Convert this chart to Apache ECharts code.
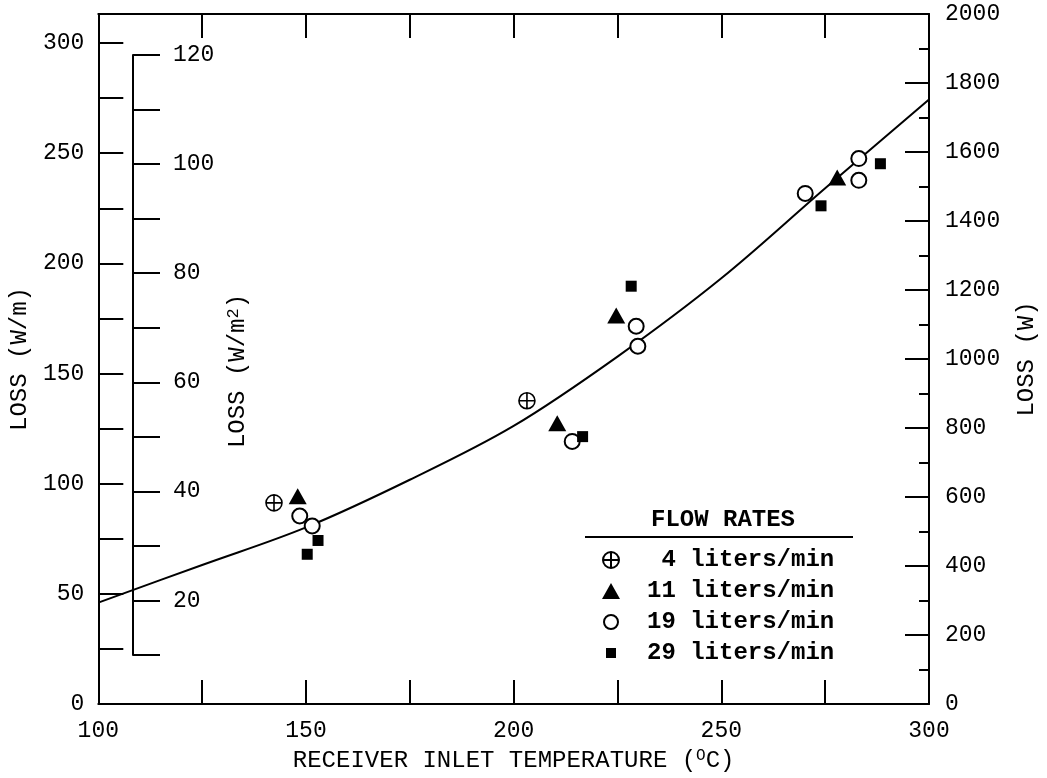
<!DOCTYPE html>
<html><head><meta charset="utf-8">
<script src="https://cdn.jsdelivr.net/npm/echarts@6/dist/echarts.min.js"></script>
<style>html,body{margin:0;padding:0;background:#fff}#c{width:1047px;height:778px}</style>
</head><body><div id="c"></div>
<script>
const FONT = "'Liberation Mono', 'Courier New', monospace";

// ---- data ----
const curveTemp = [100, 125, 150, 175, 200, 225, 250, 275, 300];
const curveLoss = [294, 403, 512, 650, 806, 1007, 1234, 1495, 1752];

const seriesNames = [' 4 liters/min', '11 liters/min', '19 liters/min', '29 liters/min'];
const temp4 = [142.3, 203.2];
const loss4 = [583, 879];
const temp11 = [148.0, 210.5, 224.7, 277.9];
const loss11 = [602, 814, 1126, 1526];
const temp19 = [148.5, 151.5, 214.1, 229.5, 229.9, 270.2, 283.1, 283.1];
const loss19 = [545, 516, 761, 1095, 1037, 1480, 1581, 1518];
const temp29 = [150.3, 152.9, 216.6, 228.3, 274.0, 288.3];
const loss29 = [434, 474, 775, 1211, 1444, 1566];

const xTickLabels = [100, 150, 200, 250, 300];
const lossPerMLabels = [0, 50, 100, 150, 200, 250, 300];
const lossPerM2Labels = [20, 40, 60, 80, 100, 120];
const lossWLabels = [0, 200, 400, 600, 800, 1000, 1200, 1400, 1600, 1800, 2000];

const pairs = (xs, ys) => xs.map((x, i) => [x, ys[i]]);

const plusPath = 'path://M0,8A8,8,0,1,1,16,8A8,8,0,1,1,0,8ZM8,0L8,16M0,8L16,8';
const circleIcon = 'path://M0,0M18,16M2,8A7,7,0,1,1,16,8A7,7,0,1,1,2,8Z';
const squareIcon = 'path://M0,0M18,16M4,3L14,3L14,13L4,13Z';

const black = '#000';
const axisLine = { show: true, onZero: false, lineStyle: { color: black, width: 2 } };
const tickStyle = { color: black, width: 2 };
const lbl = (list, extra) => Object.assign({
  fontFamily: FONT, fontSize: 23, color: black,
  formatter: v => list.includes(Math.round(v * 1000) / 1000) ? String(v) : ''
}, extra || {});

const chart = echarts.init(document.getElementById('c'), null, { renderer: 'canvas' });
chart.setOption({
  animation: false,
  backgroundColor: '#fff',
  grid: [
    { left: 97, right: 113, top: 14, bottom: 71 },
    { left: 133, width: 1, top: 55, bottom: 123 }
  ],
  xAxis: [
    {
      type: 'value', gridIndex: 0, position: 'bottom', min: 100, max: 300, interval: 25,
      axisLine, axisTick: { inside: true, length: 24, lineStyle: tickStyle },
      axisLabel: lbl(xTickLabels, { margin: 15 }),
      splitLine: { show: false },
      name: '{a|RECEIVER INLET TEMPERATURE (}{b|O}{a|C)}',
      nameLocation: 'middle', nameGap: 44,
      nameTextStyle: {
        rich: {
          a: { fontFamily: FONT, fontSize: 24, color: black, lineHeight: 26 },
          b: { fontFamily: FONT, fontSize: 16, color: black, lineHeight: 15, verticalAlign: 'top' }
        }
      }
    },
    {
      type: 'value', gridIndex: 0, position: 'top', min: 100, max: 300, interval: 25,
      axisLine, axisTick: { inside: true, length: 24, lineStyle: tickStyle },
      axisLabel: { show: false }, splitLine: { show: false }
    },
    { type: 'value', gridIndex: 1, show: false, min: 0, max: 1 }
  ],
  yAxis: [
    {
      type: 'value', gridIndex: 0, position: 'left', min: 0, max: 313.2, interval: 25,
      axisLine, axisTick: { inside: true, length: 25, lineStyle: tickStyle },
      axisLabel: lbl(lossPerMLabels, { margin: 14 }),
      splitLine: { show: false },
      name: 'LOSS (W/m)', nameLocation: 'middle', nameGap: 61,
      nameTextStyle: { fontFamily: FONT, fontSize: 24, color: black }
    },
    {
      type: 'value', gridIndex: 0, position: 'right', min: 0, max: 2000, interval: 200,
      axisLine, axisTick: { inside: true, length: 24, lineStyle: tickStyle },
      minorTick: { show: true, splitNumber: 2, length: 10, lineStyle: tickStyle },
      axisLabel: lbl(lossWLabels, { margin: 16 }),
      splitLine: { show: false }, minorSplitLine: { show: false },
      name: 'LOSS (W)', nameLocation: 'middle', nameGap: 86,
      nameTextStyle: { fontFamily: FONT, fontSize: 24, color: black }
    },
    {
      type: 'value', gridIndex: 1, position: 'left', min: 10, max: 120, interval: 10,
      axisLine, axisTick: { inside: true, length: 27, lineStyle: tickStyle },
      axisLabel: lbl(lossPerM2Labels, { inside: true, margin: 40 }),
      splitLine: { show: false }
    }
  ],
  legend: {
    orient: 'vertical', left: 601, top: 548, padding: 0, itemGap: 7,
    itemWidth: 18, itemHeight: 16,
    textStyle: { fontFamily: FONT, fontSize: 24, fontWeight: 'bold', color: black, lineHeight: 24, padding: [0, 0, 0, 22] },
    data: [
      { name: seriesNames[0], icon: plusPath },
      { name: seriesNames[1], icon: 'triangle' },
      { name: seriesNames[2], icon: circleIcon },
      { name: seriesNames[3], icon: squareIcon }
    ]
  },
  graphic: [
    {
      type: 'text', x: 723, y: 520,
      style: { text: 'FLOW RATES', fontFamily: FONT, fontSize: 24, fontWeight: 'bold', fill: black, align: 'center', verticalAlign: 'middle' }
    },
    {
      type: 'line', shape: { x1: 585, y1: 537, x2: 853, y2: 537 },
      style: { stroke: black, lineWidth: 2 }
    },
    {
      type: 'text', x: 238, y: 371, rotation: Math.PI / 2,
      style: {
        text: '{a|LOSS (W/m}{b|2}{a|)}', align: 'center', verticalAlign: 'middle',
        rich: {
          a: { fontFamily: FONT, fontSize: 24, fill: black, lineHeight: 26 },
          b: { fontFamily: FONT, fontSize: 17, fill: black, lineHeight: 15, verticalAlign: 'top' }
        }
      }
    }
  ],
  series: [
    {
      type: 'line', xAxisIndex: 0, yAxisIndex: 1, smooth: 0.35, showSymbol: false, silent: true,
      lineStyle: { color: black, width: 2 }, z: 1,
      data: pairs(curveTemp, curveLoss)
    },
    {
      name: seriesNames[0], type: 'scatter', xAxisIndex: 0, yAxisIndex: 1,
      symbol: plusPath, symbolSize: 16, z: 3,
      itemStyle: { color: 'rgba(0,0,0,0)', borderColor: black, borderWidth: 1.6, opacity: 1 },
      data: pairs(temp4, loss4)
    },
    {
      name: seriesNames[1], type: 'scatter', xAxisIndex: 0, yAxisIndex: 1,
      symbol: 'triangle', symbolSize: [18, 16], z: 3,
      itemStyle: { color: black, opacity: 1 },
      data: pairs(temp11, loss11)
    },
    {
      name: seriesNames[2], type: 'scatter', xAxisIndex: 0, yAxisIndex: 1,
      symbol: 'circle', symbolSize: 15, z: 3,
      itemStyle: { color: '#fff', borderColor: black, borderWidth: 2, opacity: 1 },
      data: pairs(temp19, loss19)
    },
    {
      name: seriesNames[3], type: 'scatter', xAxisIndex: 0, yAxisIndex: 1,
      symbol: 'rect', symbolSize: 11, z: 3,
      itemStyle: { color: black, opacity: 1 },
      data: pairs(temp29, loss29)
    }
  ]
});
</script>
</body></html>
